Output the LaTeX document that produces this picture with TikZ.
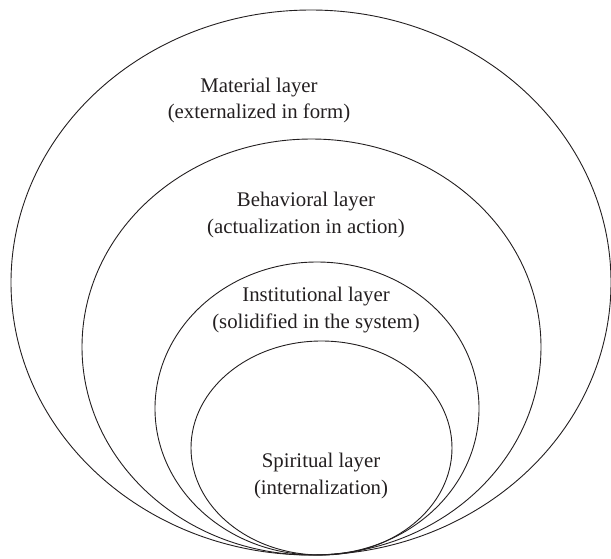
\documentclass[tikz,border=0pt]{standalone}
\usepackage{fontspec}
\setmainfont{Liberation Serif}
\usetikzlibrary{shapes.geometric}
\definecolor{ink}{HTML}{231F20}
\begin{document}
\begin{tikzpicture}[x=1pt,y=-1pt,
  layer/.style={draw=ink, line width=0.9pt, ellipse, inner sep=0pt},
  lbl/.style={align=center, text=ink, font={\fontsize{20.8}{26.5}\selectfont}, inner sep=0pt}]
\useasboundingbox (0,0) rectangle (611,558);
\node[layer, minimum width=600pt, minimum height=545pt] (outer) at (311,282.5) {};
\node[layer, minimum width=459pt, minimum height=416pt] (behav) at (311.5,347) {};
\node[layer, minimum width=324pt, minimum height=293pt] (inst) at (317,408.5) {};
\node[layer, minimum width=261pt, minimum height=214pt] (spir) at (321.5,448) {};
\node[lbl] (tmat) at (259,100.5) {Material layer\\(externalized in form)};
\node[lbl] (tbeh) at (306,215) {Behavioral layer\\(actualization in action)};
\node[lbl] (tins) at (316,310) {Institutional layer\\(solidified in the system)};
\node[lbl] (tspi) at (321,476) {Spiritual layer\\(internalization)};
\end{tikzpicture}
\end{document}
